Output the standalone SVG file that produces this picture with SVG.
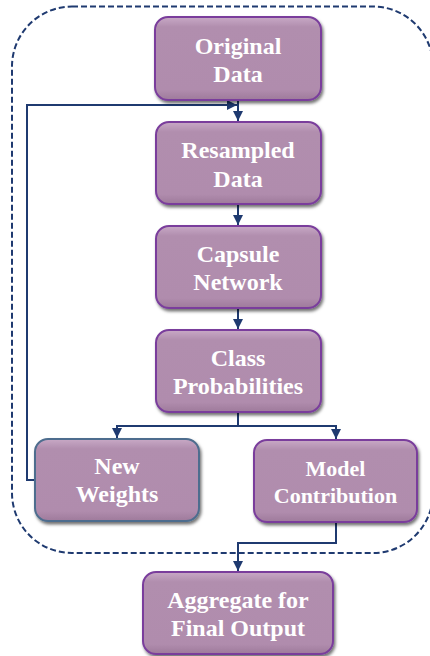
<svg xmlns="http://www.w3.org/2000/svg" width="430" height="656" viewBox="0 0 430 656">
<style>
.box{fill:url(#g);stroke:#7A3E9C;stroke-width:2;filter:url(#sh)}
.box2{fill:url(#g);stroke:#4E6D8E;stroke-width:2;filter:url(#sh)}
.lbl{font-family:"Liberation Serif","Times New Roman",serif;font-weight:bold;font-size:24px;fill:#FFFFFF;text-anchor:middle}
.sm{font-size:22px}
.con{fill:none;stroke:#1F3A70;stroke-width:2}
.cont{fill:none;stroke:#1F3A70;stroke-width:2;stroke-dasharray:6 3}
</style>
<defs>
<linearGradient id="g" x1="0" y1="0" x2="0" y2="1">
<stop offset="0" stop-color="#C8A9C6"/>
<stop offset="0.12" stop-color="#B18EAE"/>
<stop offset="0.88" stop-color="#B08CAD"/>
<stop offset="1" stop-color="#9E7A9B"/>
</linearGradient>
<filter id="sh" x="-10%" y="-10%" width="125%" height="130%">
<feDropShadow dx="1.5" dy="2.5" stdDeviation="1.5" flood-color="#000" flood-opacity="0.55"/>
</filter>
<marker id="ah" viewBox="0 0 10 10" refX="10" refY="5" markerWidth="10" markerHeight="10" markerUnits="userSpaceOnUse" orient="auto">
<path d="M0,0 L10,5 L0,10 Z" fill="#1F3A70"/>
</marker>
</defs>
<rect id="container" class="cont" x="12" y="6.5" width="421" height="546.5" rx="60" ry="60"/>
<g id="connectors">
<path class="con" d="M238,100 V121" marker-end="url(#ah)"/>
<path class="con" d="M35,480 H27 V105 H237" marker-end="url(#ah)"/>
<path class="con" d="M238,204 V225" marker-end="url(#ah)"/>
<path class="con" d="M238,308 V329" marker-end="url(#ah)"/>
<path class="con" d="M238,412 V426 H117 V438" marker-end="url(#ah)"/>
<path class="con" d="M238,426 H336 V439" marker-end="url(#ah)"/>
<path class="con" d="M336,522 V543 H238 V571" marker-end="url(#ah)"/>
</g>
<g id="original-data">
<rect class="box" x="155" y="17" width="166" height="83" rx="13"/>
<text class="lbl" x="238" y="54">Original</text>
<text class="lbl" x="238" y="82">Data</text>
</g>
<g id="resampled-data">
<rect class="box" x="156" y="122" width="165" height="82" rx="13"/>
<text class="lbl" x="238" y="158">Resampled</text>
<text class="lbl" x="238" y="187">Data</text>
</g>
<g id="capsule-network">
<rect class="box" x="156" y="226" width="165" height="82" rx="13"/>
<text class="lbl" x="238" y="262">Capsule</text>
<text class="lbl" x="238" y="290">Network</text>
</g>
<g id="class-probabilities">
<rect class="box" x="156" y="330" width="165" height="82" rx="13"/>
<text class="lbl" x="238" y="366">Class</text>
<text class="lbl" x="238" y="394">Probabilities</text>
</g>
<g id="new-weights">
<rect class="box2" x="35" y="439" width="164" height="82" rx="13"/>
<text class="lbl" x="117" y="474">New</text>
<text class="lbl" x="117" y="502">Weights</text>
</g>
<g id="model-contribution">
<rect class="box" x="254" y="440" width="163" height="82" rx="13"/>
<text class="lbl sm" x="335.5" y="476">Model</text>
<text class="lbl sm" x="335.5" y="503">Contribution</text>
</g>
<g id="aggregate">
<rect class="box" x="143" y="572" width="190" height="82" rx="13"/>
<text class="lbl" x="238" y="608">Aggregate for</text>
<text class="lbl" x="238" y="636">Final Output</text>
</g>
</svg>
